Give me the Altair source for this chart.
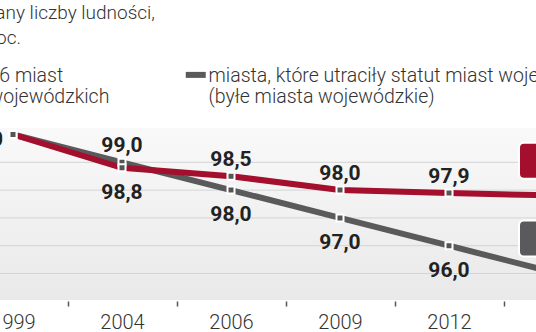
import json
import altair as alt
import pandas as pd

# ---- data ----
years = ["1999", "2004", "2006", "2009", "2012", "2015"]
series_names = [
    "16 miast|wojewódzkich",
    "miasta, które utraciły statut miast wojewódzkich|(byłe miasta wojewódzkie)",
]
red_values = [100.0, 98.8, 98.5, 98.0, 97.9, 97.8]
gray_values = [100.0, 99.0, 98.0, 97.0, 96.0, 95.0]
red_label_pos = ["none", "below", "above", "above", "above", "tag"]
gray_label_pos = ["left", "above", "below", "below", "below", "tag"]
grid_values = [95, 96, 97, 98, 99]
title_lines = ["Zmiany liczby ludności,", "proc."]

RED = "#a30f2c"
GRAY = "#5a5a5c"
FONT = "Roboto"
NUMFONT = "Roboto"

rows = []
for name, vals, poss in [
    (series_names[1], gray_values, gray_label_pos),
    (series_names[0], red_values, red_label_pos),
]:
    for i, (yr, v, p) in enumerate(zip(years, vals, poss)):
        rows.append({"i": i, "year": yr, "series": name, "value": v, "pos": p,
                     "label": f"{v:.1f}".replace(".", ",")})
df = pd.DataFrame(rows)
grid_df = pd.DataFrame({"g": grid_values})

W, H = 536, 172
x_dom = [-13 / 109, (W - 13) / 109]
y_dom = [100 - 165.5 / 27.8, 100 + 6.5 / 27.8]
xs = alt.Scale(domain=x_dom, nice=False, zero=False)
ys = alt.Scale(domain=y_dom, nice=False, zero=False)
cscale = alt.Scale(domain=series_names, range=[RED, GRAY])

label_expr = "datum.value % 1 === 0 ? " + json.dumps(years) + "[datum.value] : ''"
x_axis = alt.Axis(
    values=[k / 2 for k in range(10)], labelExpr=label_expr, title=None,
    domain=False, grid=False, tickSize=5, tickWidth=1.5, tickColor="#555",
    tickOpacity={"condition": {"test": "datum.value % 1 === 0", "value": 0}, "value": 1},
    labelFont=FONT, labelFontSize=20, labelFontWeight=300, labelColor="#333",
    labelPadding=6, labelOverlap=False, labelFlush=False, offset=1,
)

legend = alt.Legend(
    title=None, orient="none", legendX=-31, legendY=-56, direction="horizontal",
    symbolType="M-2.364,-1.27L1.273,-1.27", symbolSize=121, symbolStrokeWidth=6,
    labelExpr="split(datum.label, '|')", labelFont=FONT, labelFontSize=19.5,
    labelFontWeight=300, labelColor="#333", labelBaseline="alphabetic",
    labelLimit=1000, labelOffset=0, columnPadding=63, padding=0,
)

base = alt.Chart(df).encode(
    x=alt.X("i:Q", scale=xs, axis=x_axis),
    y=alt.Y("value:Q", scale=ys, axis=None),
)

gradient = alt.LinearGradient(
    gradient="linear", x1=0, x2=0, y1=0, y2=1,
    stops=[alt.GradientStop(color="#f9f9f9", offset=0),
           alt.GradientStop(color="#e9e9e9", offset=1)],
)
bg = alt.Chart(pd.DataFrame({"k": [0]})).mark_rect(fill=gradient).encode(
    x=alt.value(0), x2=alt.value("width"), y=alt.value(0), y2=alt.value("height")
)
grid = alt.Chart(grid_df).mark_rule(color="#d4d4d4", strokeWidth=1).encode(
    y=alt.Y("g:Q", scale=ys, axis=None)
)

color_enc = alt.Color("series:N", scale=cscale, legend=legend)
gray_line = base.transform_filter(alt.datum.series == series_names[1]).mark_line(
    strokeWidth=6).encode(color=color_enc)
red_line = base.transform_filter(alt.datum.series == series_names[0]).mark_line(
    strokeWidth=6).encode(color=color_enc)

markers = base.transform_filter(alt.datum.pos != "tag").mark_square(
    size=49, color="#555", stroke="white", strokeWidth=2, opacity=1)

num_style = dict(font=NUMFONT, fontSize=21, fontWeight="bold", color="#222",
                 baseline="alphabetic")
above = base.transform_filter(alt.datum.pos == "above").mark_text(dy=-10, **num_style).encode(
    text="label:N")
below = base.transform_filter(alt.datum.pos == "below").mark_text(dy=31, **num_style).encode(
    text="label:N")
left = base.transform_filter(alt.datum.pos == "left").mark_text(
    dy=11, dx=-10, align="right", **num_style).encode(text="label:N")

tags = []
for name, col in [(series_names[0], RED), (series_names[1], GRAY)]:
    t = base.transform_filter((alt.datum.pos == "tag") & (alt.datum.series == name))
    tags.append(t.mark_rect(width=78, height=36, yOffset=-35, cornerRadius=5,
                            color=col, stroke="white", strokeWidth=2, opacity=1))
    tags.append(t.mark_text(dy=-27, font=NUMFONT, fontSize=21, fontWeight="bold",
                            color="white", baseline="alphabetic").encode(text="label:N"))

head_style = dict(font=FONT, fontSize=19, fontWeight=300, color="#333",
                  align="right", baseline="alphabetic")
head1 = alt.Chart(pd.DataFrame({"t": [title_lines[0]]})).mark_text(**head_style).encode(
    x=alt.value(155), y=alt.value(-109), text="t:N")
head2 = alt.Chart(pd.DataFrame({"t": [title_lines[1]]})).mark_text(**head_style).encode(
    x=alt.value(21), y=alt.value(-84), text="t:N")

chart = alt.layer(
    bg, grid, gray_line, red_line, markers, above, below, left, *tags, head1, head2
).properties(
    width=W, height=H,
    padding={"left": 0, "right": 0, "top": 128, "bottom": 32},
    autosize=alt.AutoSizeParams(type="none"),
).configure_view(stroke=None)

chart.save("out.html", embed_options={"renderer": "svg", "actions": False})
